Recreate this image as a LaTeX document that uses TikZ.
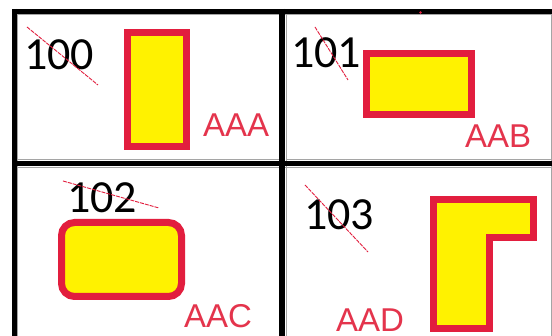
\documentclass[tikz,border=0pt]{standalone}
\usepackage{fontspec}
\setmainfont{Carlito}
\newfontfamily\codefont{Liberation Sans}
\definecolor{edgered}{RGB}{226,30,62}
\definecolor{textred}{RGB}{228,52,76}
\definecolor{cellgray}{RGB}{165,165,165}
\tikzset{
  gridline/.style={black, line width=5.5pt},
  cellline/.style={cellgray, line width=1pt},
  shapebox/.style={draw=edgered, fill=yellow, line width=7pt},
  strike/.style={edgered, line width=0.9pt, dash pattern=on 4pt off 1pt},
  numlabel/.style={anchor=base west, inner sep=0pt, font=\fontsize{46}{46}\selectfont},
  codelabel/.style={anchor=base west, inner sep=0pt, text=textred, font=\codefont\fontsize{33}{33}\selectfont}
}
\begin{document}
\begin{tikzpicture}[x=1pt, y=-1pt]
    \useasboundingbox (0,0) rectangle (552,336);
    \fill[white] (0,0) rectangle (552,336);

    % Thin cell borders
    \draw[cellline] (17,14.5) -- (551,14.5);
    \draw[cellline] (551,14.5) -- (551,336);
    \draw[cellline] (17,14.5) -- (17,336);
    \draw[cellline] (17,159.5) -- (279,159.5);
    \draw[cellline] (286.5,159.5) -- (551,159.5);
    \draw[cellline] (17,167.5) -- (551,167.5);
    \draw[cellline] (279,14.5) -- (279,336);
    \draw[cellline] (286.5,14.5) -- (286.5,336);

    % Table grid
    \draw[gridline] (12,11.3) -- (552,11.3);
    \draw[gridline] (14.3,9) -- (14.3,336);
    \draw[gridline] (15,163.7) -- (552,163.7);
    \draw[gridline] (282,9) -- (282,336);
    \fill[edgered] (420.5,12.5) circle (1.3pt);

    % Cell 100
    \node[numlabel] (n100) at (24,70) {100};
    \draw[strike] (27,27) -- (98,85);
    \draw[shapebox] (127.5,32.5) rectangle (186.5,146.5);
    \node[codelabel] (aaa) at (203,137) {AAA};

    % Cell 101
    \node[numlabel] (n101) at (291,68) {101};
    \draw[strike] (315,27) -- (348,80);
    \draw[shapebox] (366.5,53.5) rectangle (471.5,114.5);
    \node[codelabel] (aab) at (465,148) {AAB};

    % Cell 102
    \node[numlabel] (n102) at (67,213) {102};
    \draw[strike] (63,181) -- (159,208);
    \draw[shapebox, rounded corners=13pt] (61.5,222.5) rectangle (181.5,296.5);
    \node[codelabel] (aac) at (184,328) {AAC};

    % Cell 103
    \node[numlabel] (n103) at (304,230) {103};
    \draw[strike] (305,185) -- (368,252);
    \draw[shapebox] (433.5,199.5) -- (533.5,199.5) -- (533.5,238) -- (489.5,238)
        -- (489.5,328.5) -- (433.5,328.5) -- cycle;
    \node[codelabel] (aad) at (336,331.5) {AAD};
\end{tikzpicture}
\end{document}
